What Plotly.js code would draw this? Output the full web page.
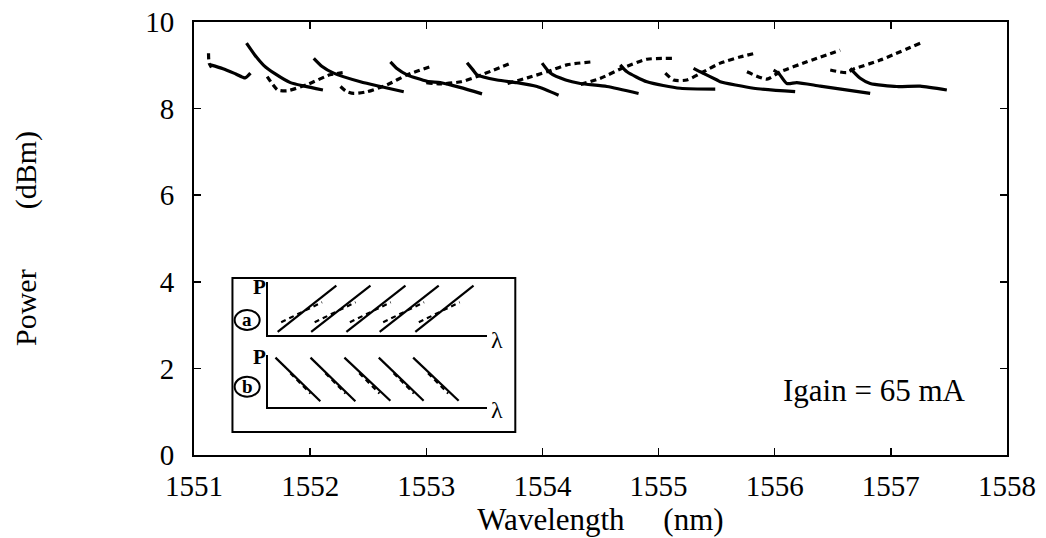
<!DOCTYPE html>
<html>
<head>
<meta charset="utf-8">
<script src="https://cdn.plot.ly/plotly-3.0.1.min.js"></script>
<style>html,body{margin:0;padding:0;background:#fff;}#chart{width:1046px;height:538px;}</style>
</head>
<body>
<div id="chart"></div>
<script>
// Main chart: solid (decreasing) sweeps, null separates segments
var solidX = [
  1551.142, 1551.25, 1551.36, 1551.44, 1551.486, null,
  1551.452, 1551.52, 1551.60, 1551.70, 1551.83, 1551.95, 1552.11, null,
  1552.031, 1552.10, 1552.203, 1552.433, 1552.605, 1552.806, null,
  1552.691, 1552.75, 1552.835, 1553.007, 1553.12, 1553.29, 1553.48, null,
  1553.351, 1553.40, 1553.437, 1553.61, 1553.781, 1553.954, 1554.139, null,
  1553.997, 1554.068, 1554.20, 1554.326, 1554.556, 1554.828, null,
  1554.670, 1554.728, 1554.900, 1555.187, 1555.488, null,
  1555.301, 1555.359, 1555.503, 1555.531, 1555.818, 1556.176, null,
  1555.990, 1556.033, 1556.105, 1556.190, 1556.392, 1556.822, null,
  1556.650, 1556.736, 1556.822, 1557.052, 1557.252, 1557.482
];
var solidY = [
  9.01, 8.92, 8.80, 8.71, 8.82, null,
  9.51, 9.25, 9.00, 8.80, 8.60, 8.52, 8.43, null,
  9.16, 8.98, 8.82, 8.62, 8.51, 8.39, null,
  9.08, 8.92, 8.78, 8.63, 8.60, 8.49, 8.34, null,
  9.06, 8.90, 8.78, 8.66, 8.60, 8.51, 8.31, null,
  9.05, 8.82, 8.66, 8.58, 8.51, 8.35, null,
  9.01, 8.85, 8.62, 8.47, 8.45, null,
  8.93, 8.85, 8.66, 8.62, 8.47, 8.39, null,
  8.89, 8.82, 8.58, 8.60, 8.52, 8.35, null,
  8.93, 8.70, 8.58, 8.51, 8.52, 8.43
];
// Main chart: dashed (increasing) sweeps
var dashX = [
  1551.125, 1551.13, 1551.15, null,
  1551.630, 1551.68, 1551.72, 1551.80, 1551.97, 1552.17, 1552.28, null,
  1552.261, 1552.31, 1552.375, 1552.491, 1552.663, 1552.835, 1553.035, null,
  1553.00, 1553.12, 1553.30, 1553.437, 1553.58, 1553.738, null,
  1553.70, 1553.87, 1554.04, 1554.21, 1554.43, null,
  1554.33, 1554.50, 1554.685, 1554.90, 1555.115, null,
  1555.058, 1555.129, 1555.244, 1555.387, 1555.531, 1555.70, 1555.832, null,
  1555.761, 1555.933, 1556.047, 1556.277, 1556.564, null,
  1556.478, 1556.621, 1556.678, 1556.908, 1557.252
];
var dashY = [
  9.28, 9.05, 8.95, null,
  8.74, 8.55, 8.43, 8.41, 8.55, 8.78, 8.83, null,
  8.51, 8.40, 8.35, 8.39, 8.55, 8.78, 8.97, null,
  8.60, 8.57, 8.62, 8.74, 8.89, 9.06, null,
  8.58, 8.71, 8.85, 9.01, 9.08, null,
  8.56, 8.70, 8.93, 9.14, 9.16, null,
  8.82, 8.66, 8.66, 8.85, 9.05, 9.19, 9.28, null,
  8.85, 8.68, 8.85, 9.08, 9.35, null,
  8.89, 8.83, 8.91, 9.12, 9.51
];
var xTicks = [1551, 1552, 1553, 1554, 1555, 1556, 1557, 1558];
var yTicks = [0, 2, 4, 6, 8, 10];

// Inset schematic (a): rising solid lines and dashed companions
var insetAsolidX = [0.42, 3.10, null, 1.95, 4.66, null, 3.56, 6.26, null, 5.08, 7.78, null, 6.71, 9.37];
var insetAsolidY = [0.6, 9.3, null, 0.6, 9.3, null, 0.6, 9.3, null, 0.6, 9.3, null, 0.6, 9.3];
var insetAdashX = [0.58, 2.45, null, 2.11, 3.98, null, 3.72, 5.59, null, 5.24, 7.11, null, 6.87, 8.74];
var insetAdashY = [2.4, 6.2, null, 2.4, 6.2, null, 2.4, 6.2, null, 2.4, 6.2, null, 2.4, 6.2];
// Inset schematic (b): falling solid lines and dashed companions
var insetBsolidX = [0.32, 2.37, null, 1.92, 3.97, null, 3.47, 5.57, null, 5.04, 7.09, null, 6.61, 8.69];
var insetBsolidY = [9.5, 1.1, null, 9.5, 1.1, null, 9.5, 1.2, null, 9.5, 1.2, null, 9.5, 1.2];
var insetBdashX = [1.00, 1.92, null, 2.60, 3.52, null, 4.15, 5.07, null, 5.72, 6.64, null, 7.29, 8.21];
var insetBdashY = [6.5, 2.6, null, 6.5, 2.6, null, 6.5, 2.6, null, 6.5, 2.6, null, 6.5, 2.6];

var FONT = '"Liberation Serif", "Times New Roman", Times, serif';
var NB = '\u00a0';
function sp(n){ return new Array(n + 1).join(NB); }

var traces = [
  {x: solidX, y: solidY, type: 'scatter', mode: 'lines', connectgaps: false,
   line: {color: '#000', width: 3.2, shape: 'spline', smoothing: 0.6}, hoverinfo: 'skip'},
  {x: dashX, y: dashY, type: 'scatter', mode: 'lines', connectgaps: false,
   line: {color: '#000', width: 3.2, dash: '6px,4px', shape: 'spline', smoothing: 0.6}, hoverinfo: 'skip'},
  {x: insetAsolidX, y: insetAsolidY, xaxis: 'x2', yaxis: 'y2', type: 'scatter', mode: 'lines',
   line: {color: '#000', width: 2.2}, hoverinfo: 'skip'},
  {x: insetAdashX, y: insetAdashY, xaxis: 'x2', yaxis: 'y2', type: 'scatter', mode: 'lines',
   line: {color: '#000', width: 2.2, dash: '5px,4px'}, hoverinfo: 'skip'},
  {x: insetBsolidX, y: insetBsolidY, xaxis: 'x3', yaxis: 'y3', type: 'scatter', mode: 'lines',
   line: {color: '#000', width: 2.2}, hoverinfo: 'skip'},
  {x: insetBdashX, y: insetBdashY, xaxis: 'x3', yaxis: 'y3', type: 'scatter', mode: 'lines',
   line: {color: '#000', width: 2.2, dash: '5px,4px'}, hoverinfo: 'skip'}
];

var insetAxis = {
  range: [0, 10], showline: true, linewidth: 2, linecolor: '#000',
  showticklabels: false, ticks: '', showgrid: false, zeroline: false, fixedrange: true
};
function clone(o, extra){ var r = JSON.parse(JSON.stringify(o)); for (var k in extra) r[k] = extra[k]; return r; }

var layout = {
  width: 1046, height: 538,
  margin: {l: 194, r: 39, t: 22, b: 83, pad: 0},
  paper_bgcolor: '#fff', plot_bgcolor: '#fff',
  showlegend: false,
  font: {family: FONT, color: '#000'},
  xaxis: {
    range: [1551, 1558], tickvals: xTicks, ticktext: xTicks.map(String),
    ticks: 'inside', ticklen: 7, tickwidth: 1.5, tickcolor: '#000',
    showline: true, linewidth: 2, linecolor: '#000', mirror: 'ticks',
    showgrid: false, zeroline: false, ticklabelstandoff: 4,
    tickfont: {family: FONT, size: 29, color: '#000'},
    title: {text: 'Wavelength' + sp(5) + '(nm)', font: {family: FONT, size: 31, color: '#000'}, standoff: 2}
  },
  yaxis: {
    range: [0, 10], tickvals: yTicks, ticktext: yTicks.map(String),
    ticks: 'inside', ticklen: 7, tickwidth: 1.5, tickcolor: '#000',
    showline: true, linewidth: 2, linecolor: '#000', mirror: 'ticks',
    showgrid: false, zeroline: false, ticklabelstandoff: 12,
    tickfont: {family: FONT, size: 29, color: '#000'},
    title: {text: 'Power' + sp(8) + '(dBm)', font: {family: FONT, size: 30, color: '#000'}, standoff: 100}
  },
  xaxis2: clone(insetAxis, {domain: [0.0916, 0.3608], anchor: 'y2'}),
  yaxis2: clone(insetAxis, {domain: [0.2771, 0.3995], anchor: 'x2'}),
  xaxis3: clone(insetAxis, {domain: [0.0916, 0.3608], anchor: 'y3'}),
  yaxis3: clone(insetAxis, {domain: [0.1109, 0.2309], anchor: 'x3'}),
  shapes: [
    {type: 'rect', xref: 'paper', yref: 'paper', x0: 0.0473, x1: 0.3952, y0: 0.0531, y1: 0.4088,
     line: {color: '#000', width: 2}, fillcolor: 'rgba(0,0,0,0)', layer: 'below'},
    {type: 'circle', xref: 'paper', yref: 'paper', x0: 0.0500, x1: 0.0808, y0: 0.2887, y1: 0.3349,
     line: {color: '#000', width: 2}},
    {type: 'circle', xref: 'paper', yref: 'paper', x0: 0.0500, x1: 0.0808, y0: 0.1346, y1: 0.1808,
     line: {color: '#000', width: 2}}
  ],
  annotations: [
    {text: '<b>a</b>', xref: 'paper', yref: 'paper', x: 0.0654, y: 0.3118, showarrow: false,
     font: {family: FONT, size: 19, color: '#000'}, xanchor: 'center', yanchor: 'middle'},
    {text: '<b>b</b>', xref: 'paper', yref: 'paper', x: 0.0654, y: 0.1577, showarrow: false,
     font: {family: FONT, size: 19, color: '#000'}, xanchor: 'center', yanchor: 'middle'},
    {text: '<b>P</b>', xref: 'paper', yref: 'paper', x: 0.0805, y: 0.388, showarrow: false,
     font: {family: FONT, size: 21, color: '#000'}, xanchor: 'center', yanchor: 'middle'},
    {text: '<b>P</b>', xref: 'paper', yref: 'paper', x: 0.0805, y: 0.2263, showarrow: false,
     font: {family: FONT, size: 21, color: '#000'}, xanchor: 'center', yanchor: 'middle'},
    {text: 'λ', xref: 'paper', yref: 'paper', x: 0.373, y: 0.2656, showarrow: false,
     font: {family: FONT, size: 24, color: '#000'}, xanchor: 'center', yanchor: 'middle'},
    {text: 'λ', xref: 'paper', yref: 'paper', x: 0.373, y: 0.1039, showarrow: false,
     font: {family: FONT, size: 24, color: '#000'}, xanchor: 'center', yanchor: 'middle'},
    {text: 'Igain = 65 mA', xref: 'paper', yref: 'paper', x: 0.8365, y: 0.15, showarrow: false,
     font: {family: FONT, size: 31, color: '#000'}, xanchor: 'center', yanchor: 'middle'}
  ]
};

Plotly.newPlot('chart', traces, layout, {staticPlot: true, displayModeBar: false});
</script>
</body>
</html>
